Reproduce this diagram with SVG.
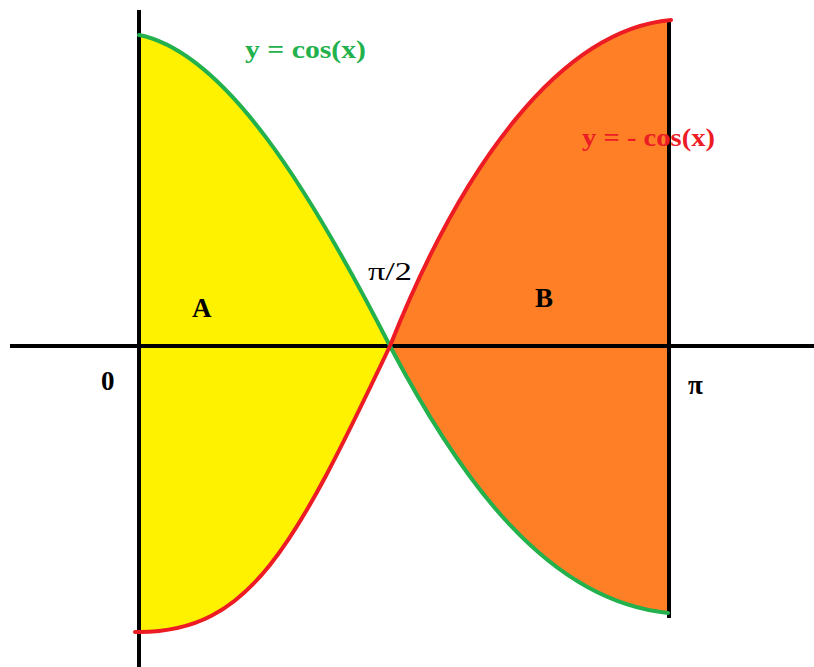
<svg xmlns="http://www.w3.org/2000/svg" width="814" height="667" viewBox="0 0 814 667">
<style>
.axis{stroke:#000;stroke-width:4;fill:none}
.green{stroke:#22B14C;stroke-width:4;fill:none;stroke-linecap:round}
.red{stroke:#ED1C24;stroke-width:4;fill:none;stroke-linecap:round}
.lbl{font-family:"Liberation Serif","DejaVu Serif",serif;font-weight:bold;font-size:27px;fill:#000}
.eq{font-family:"Liberation Serif","DejaVu Serif",serif;font-weight:bold;font-size:26px}
</style>
<rect width="814" height="667" fill="#fff"/>
<g id="regionA">
<path d="M139,35 C225,52 310,190 390,346 C293.5,548.7 250,632 139,632 Z" fill="#FFF200"/>
</g>
<g id="regionB">
<path d="M390,346 C462,165 560,30 669,20 L669,613 C547.1,600.9 460.2,479.4 390,346 Z" fill="#FF7F27"/>
</g>
<g id="connectors">
<line class="axis" x1="10" y1="346" x2="814" y2="346"/>
<line class="axis" x1="139" y1="10" x2="139" y2="667"/>
<line class="axis" x1="669" y1="19" x2="669" y2="618"/>
<path class="green" d="M139,35 C225,52 310,190 390,346 C460.2,479.4 547.1,600.9 668,613"/>
<path class="red" d="M135,632 L139,632 C250,632 293.5,548.7 390,346 C462,165 560,30 671,20"/>
</g>
<g id="labels">
<text class="eq" x="245" y="58" fill="#22B14C" textLength="121" lengthAdjust="spacingAndGlyphs">y = cos(x)</text>
<text class="eq" x="582" y="146" fill="#ED1C24" textLength="133" lengthAdjust="spacingAndGlyphs">y = - cos(x)</text>
<text x="368" y="280" font-family="Liberation Serif, DejaVu Serif, serif" font-size="26" fill="#000" textLength="44" lengthAdjust="spacingAndGlyphs">π/2</text>
<text class="lbl" x="192" y="317">A</text>
<text class="lbl" x="535" y="307">B</text>
<text class="lbl" x="101" y="390">0</text>
<text class="lbl" x="688" y="394">π</text>
</g>
</svg>
